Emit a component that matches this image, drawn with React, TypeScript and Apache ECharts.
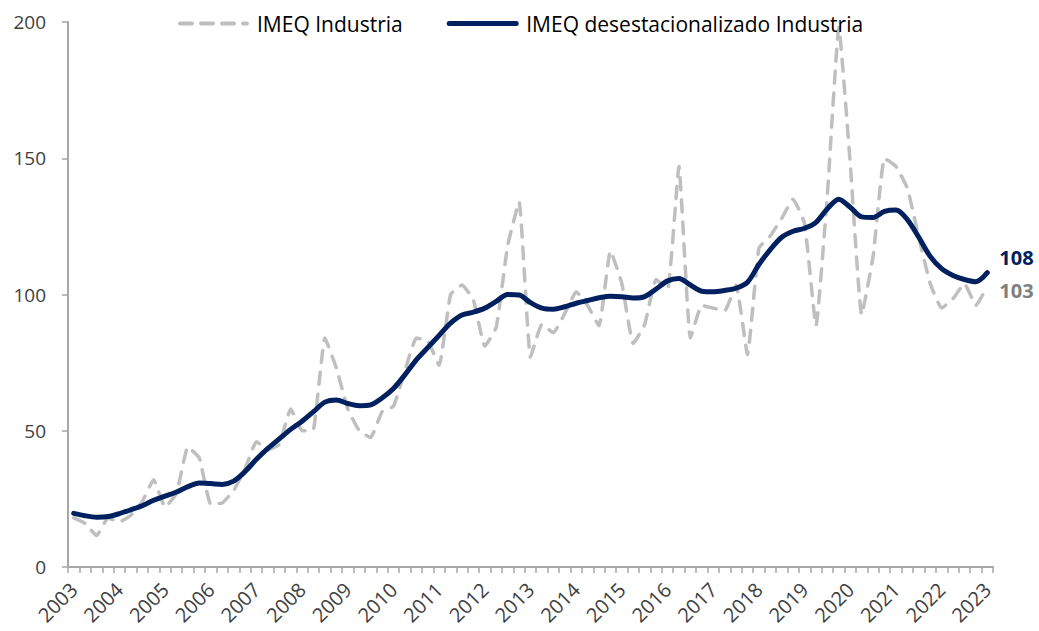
import React, { useEffect, useRef } from "react";
import * as echarts from "echarts";

const years: number[] = [2003, 2004, 2005, 2006, 2007, 2008, 2009, 2010, 2011, 2012, 2013, 2014, 2015, 2016, 2017, 2018, 2019, 2020, 2021, 2022, 2023];
const quarters: string[] = ["T1", "T2", "T3", "T4"];
const categories: string[] = [];
years.forEach((y) => {
  quarters.forEach((q) => {
    if (y < 2023 || q === "T1") categories.push(`${y} ${q}`);
  });
});

const imeqIndustria: number[] = [
  18, 16, 11.5, 18, 16.5, 19, 24, 32, 22, 27,
  44, 40, 23, 23.5, 28, 36, 46, 43, 45, 58,
  50, 50.5, 84, 73, 58, 50, 47.5, 57, 59, 72,
  84, 83, 74, 100, 103.5, 98, 81, 88, 118, 134,
  77, 89, 86, 93, 101, 96, 88.5, 116, 104, 82,
  89, 105.5, 102, 147, 84, 96, 95, 94, 103.5, 78,
  117, 121.5, 128, 135, 126, 88.5, 137, 198, 148, 92.5,
  114, 150, 147, 139, 121, 104, 95, 98.5, 104, 96,
  103,
];

const imeqDesest: number[] = [
  19.7, 18.8, 18.3, 18.5, 19.6, 21, 22.5, 24.5, 26, 27.5,
  29.5, 30.8, 30.6, 30.3, 31.5, 35, 39.5, 43.5, 47, 50.5,
  53.5, 57, 60.5, 61.3, 60, 59.2, 59.5, 62, 65.5, 70.5,
  76, 80.5, 85, 89.5, 92.5, 93.5, 95, 97.5, 100, 99.8,
  97, 95, 94.6, 95.5, 96.8, 97.8, 98.8, 99.4, 99.2, 98.7,
  99.2, 102, 105, 105.9, 103.5, 101.2, 101, 101.5, 102.3, 104.5,
  111, 116.5, 121, 123.2, 124.3, 126.5, 131.5, 135, 132, 128.5,
  128.3, 130.5, 131, 127.5, 121, 114, 109.5, 107, 105.5, 104.7,
  108,
];

const seriesNames: string[] = ["IMEQ Industria", "IMEQ desestacionalizado Industria"];
const yTicks = { min: 0, max: 200, interval: 50 };

const FONT = "'Open Sans', 'Noto Sans', sans-serif";
const NAVY = "#002060";
const GREY = "#BFBFBF";
const TEXT = "#404040";
const AXIS = "#A6A6A6";

export default function App() {
  const ref = useRef<HTMLDivElement>(null);
  useEffect(() => {
    if (!ref.current) return;
    const chart = echarts.init(ref.current, undefined, { renderer: "svg" });
    chart.setOption({
      animation: false,
      backgroundColor: "#ffffff",
      textStyle: { fontFamily: FONT },
      legend: {
        top: 8,
        left: 173,
        itemWidth: 67,
        itemHeight: 14,
        itemGap: 44,
        itemStyle: { opacity: 0 },
        textStyle: { fontFamily: FONT, fontSize: 21, color: "#000000", padding: [0, 0, 0, 5] },
        data: [
          { name: seriesNames[0], lineStyle: { width: 4, type: [12, 9], color: GREY } },
          { name: seriesNames[1], lineStyle: { width: 5, color: NAVY } },
        ],
      },
      grid: { left: 68, right: 46, top: 22, bottom: 64, containLabel: false },
      xAxis: {
        type: "category",
        data: categories,
        boundaryGap: true,
        axisLine: { lineStyle: { color: AXIS, width: 2 } },
        axisTick: { show: true, interval: 0, length: 6, lineStyle: { color: AXIS, width: 1.5 } },
        axisLabel: {
          interval: 3,
          rotate: 45,
          margin: 19,
          fontFamily: FONT,
          fontSize: 20,
          color: TEXT,
          formatter: (v: string) => v.slice(0, 4),
        },
        splitLine: { show: false },
      },
      yAxis: {
        type: "value",
        min: yTicks.min,
        max: yTicks.max,
        interval: yTicks.interval,
        axisLine: { show: true, lineStyle: { color: AXIS, width: 2 } },
        axisTick: { show: true, length: 6, lineStyle: { color: AXIS, width: 1.5 } },
        axisLabel: { fontFamily: FONT, fontSize: 19, color: TEXT, margin: 22 },
        splitLine: { show: false },
      },
      series: [
        {
          name: seriesNames[0],
          type: "line",
          data: imeqIndustria,
          symbol: "none",
          smooth: 0.12,
          itemStyle: { color: GREY },
          lineStyle: { color: GREY, width: 3.5, type: [12, 10], cap: "round" },
          endLabel: {
            show: true,
            formatter: (p: any) => String(Math.round(p.value)),
            color: "#7F7F7F",
            fontFamily: FONT,
            fontSize: 20,
            fontWeight: "bold",
            offset: [4, 4],
          },
          z: 2,
        },
        {
          name: seriesNames[1],
          type: "line",
          data: imeqDesest,
          symbol: "none",
          smooth: 0.3,
          itemStyle: { color: NAVY },
          lineStyle: { color: NAVY, width: 5, cap: "round", join: "round" },
          endLabel: {
            show: true,
            formatter: (p: any) => String(Math.round(p.value)),
            color: NAVY,
            fontFamily: FONT,
            fontSize: 20,
            fontWeight: "bold",
            offset: [4, -15],
          },
          z: 3,
        },
      ],
    });
    return () => chart.dispose();
  }, []);
  return (
    <div
      ref={ref}
      style={{ position: "fixed", left: 0, top: 0, width: 1039, height: 631, background: "#fff" }}
    />
  );
}
